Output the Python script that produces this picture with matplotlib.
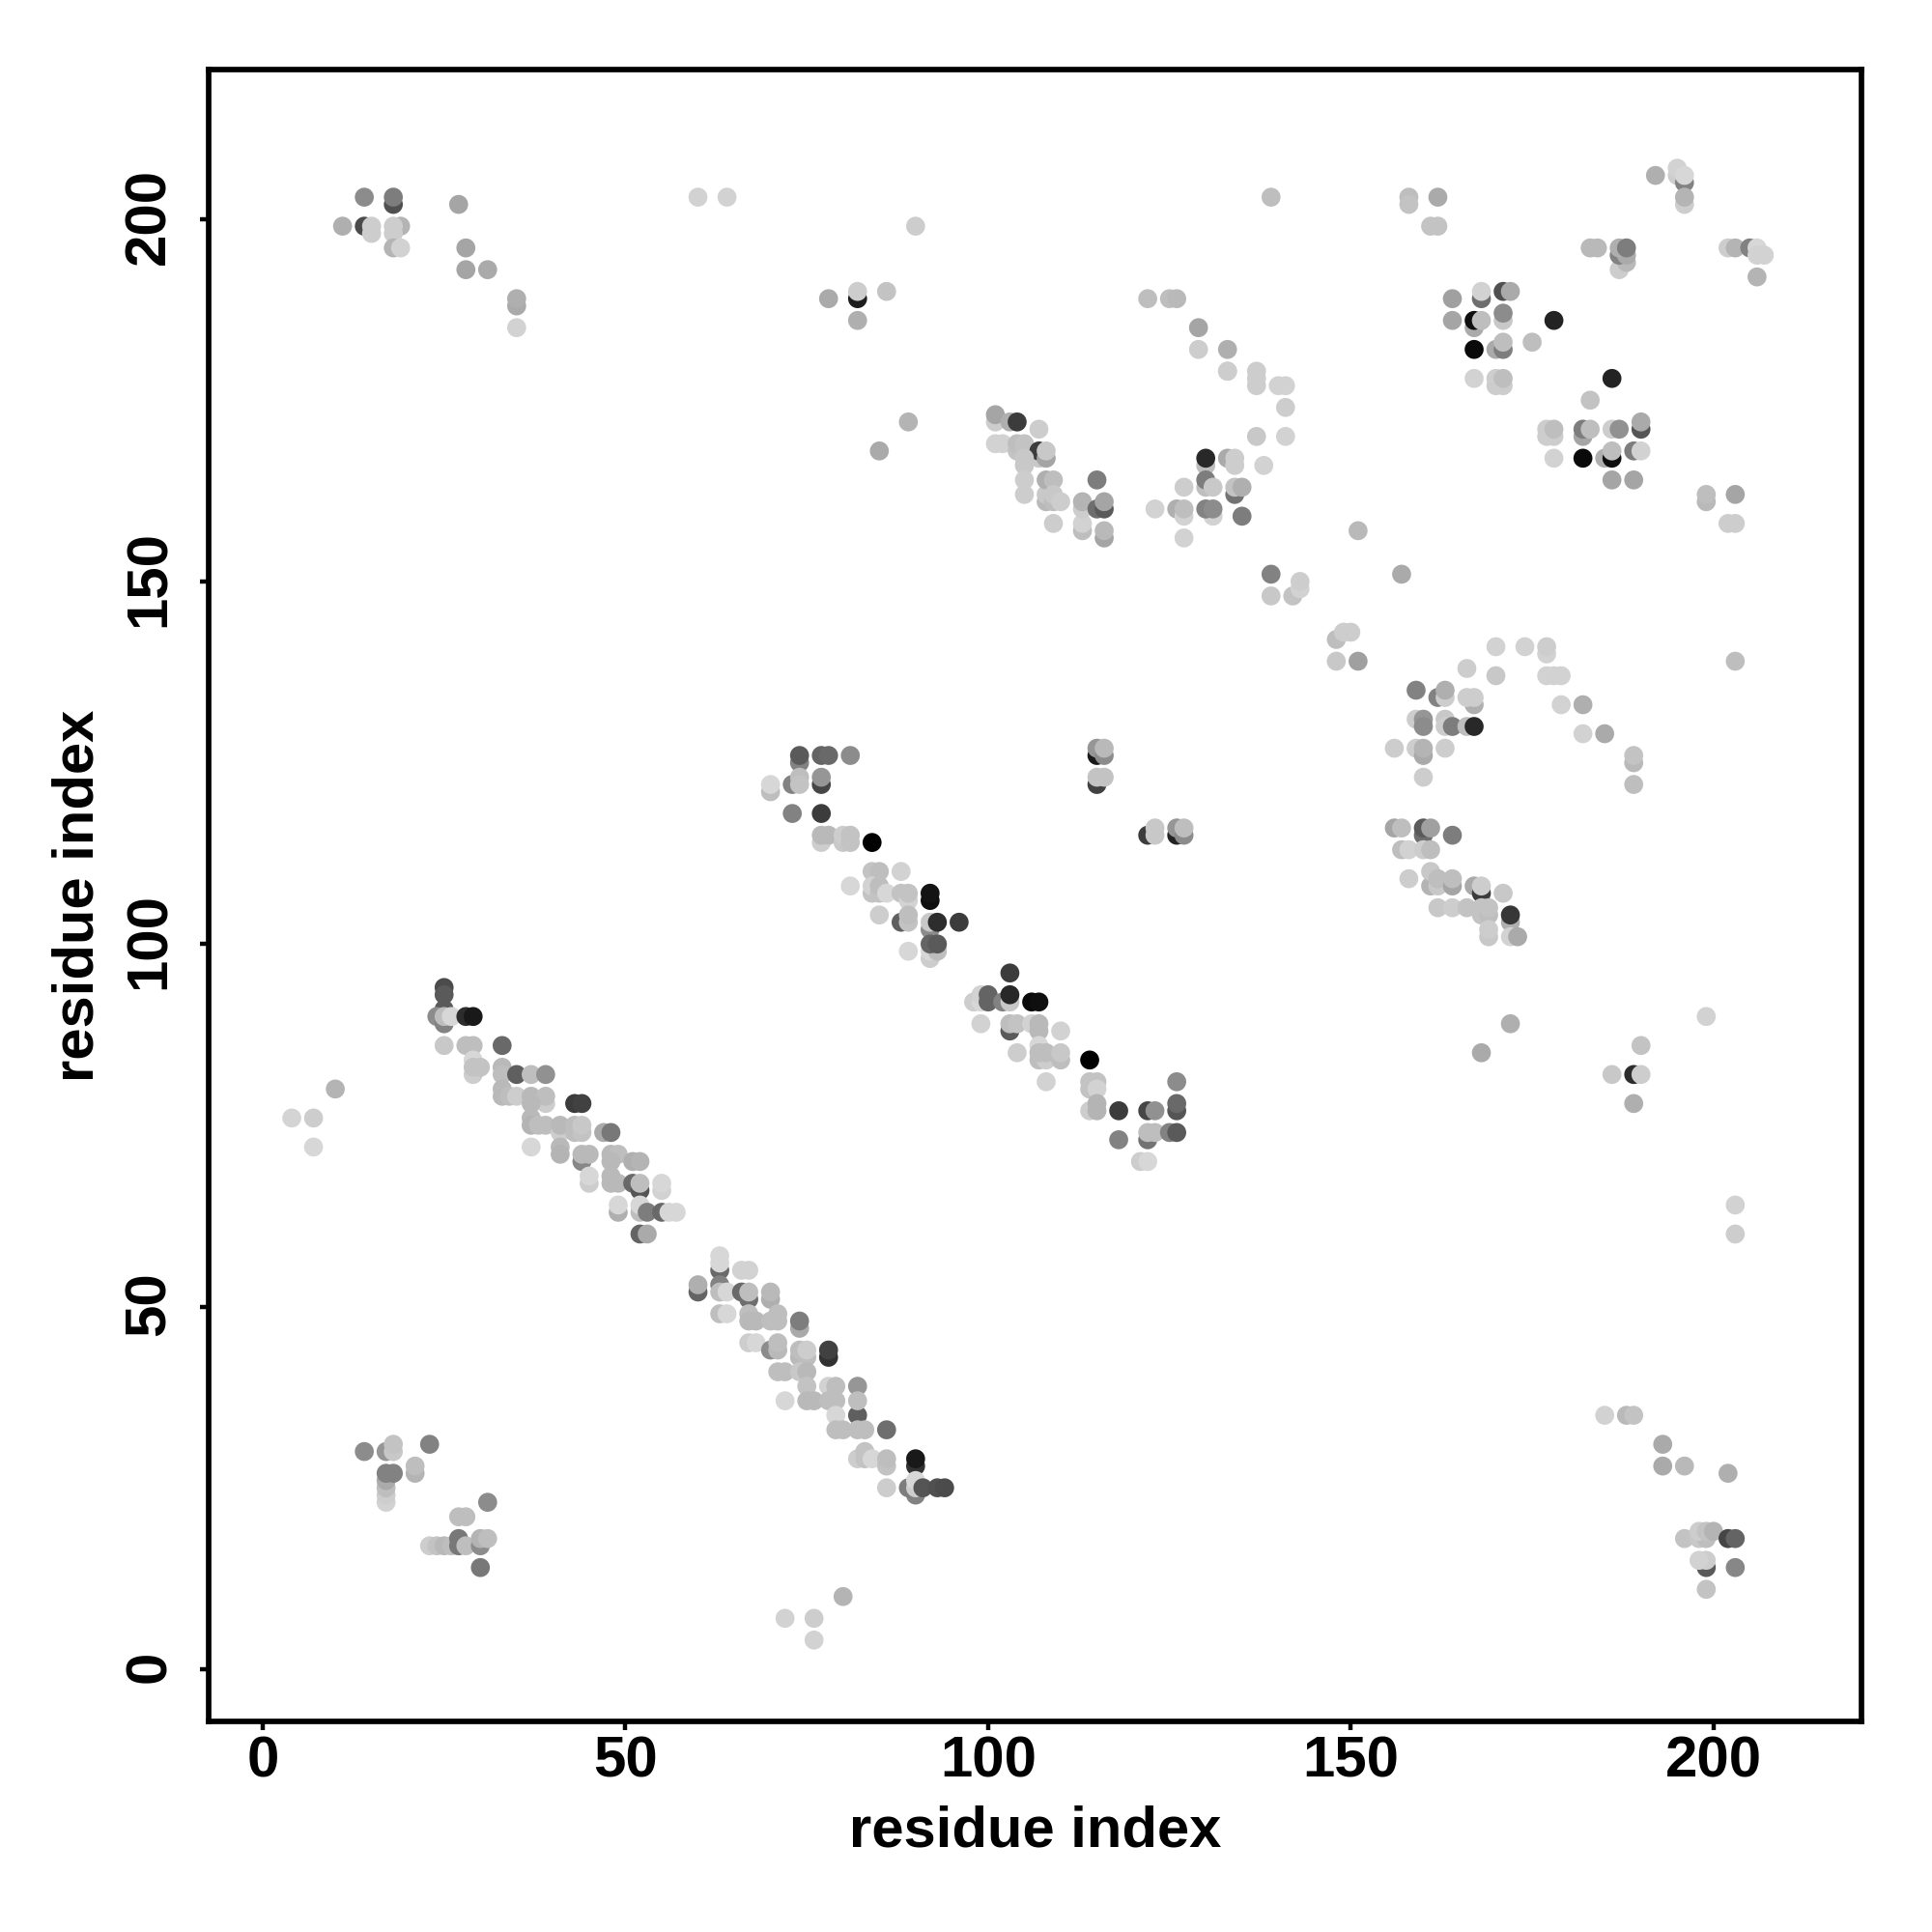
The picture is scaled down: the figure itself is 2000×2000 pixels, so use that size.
import numpy as np
import matplotlib
matplotlib.use("Agg")
import matplotlib.pyplot as plt
from matplotlib.transforms import ScaledTranslation

plt.rcParams['font.family'] = ['Liberation Sans', 'DejaVu Sans']

# each contact is (residue i, residue j, grey level 0-255)
diag_lower = [
    (4,76,212),(7,76,205),(7,72,215),(10,80,180),
    (25,94,75),(25,93,90),(25,91,90),(24,90,140),(25,89,130),(25,90,190),(26,90,215),(28,90,45),(29,90,25),
    (25,86,200),(28,86,190),(29,86,190),(33,86,105),
    (29,82,205),(29,84,215),(29,83,195),(30,83,195),
    (33,83,185),(33,82,190),(33,80,185),(33,79,185),(34,79,190),(35,79,205),
    (35,82,95),(37,82,190),(39,82,145),
    (37,79,185),(39,78,205),(39,79,190),(37,78,185),
    (37,76,185),(37,75,180),(38,75,190),(39,75,190),(41,74,205),(41,75,185),(43,74,190),(43,75,190),(44,74,195),(44,75,200),
    (43,78,60),(44,78,65),(37,72,215),(41,72,185),(41,71,180),
    (47,74,170),(48,74,120),(44,70,135),(44,71,185),(45,71,185),
    (48,71,185),(49,71,190),(48,70,185),(51,70,175),(52,70,180),
    (45,67,205),(45,68,215),(48,68,185),(48,67,185),(49,67,185),
    (51,67,105),(52,66,85),(52,67,190),(55,66,210),(55,67,215),
    (49,63,175),(49,64,215),(52,63,190),(52,64,215),(53,63,125),(55,63,105),(56,63,215),(57,63,215),
    (52,60,100),(53,60,170),
]
diag_lower2 = [
    (60,52,100),(60,53,175),(63,55,105),(63,56,215),(63,57,215),(63,53,130),(63,52,190),(64,52,215),
    (63,49,190),(64,49,215),(66,55,210),(67,55,210),(66,52,105),(67,51,110),(67,52,190),
    (70,51,175),(70,52,185),(67,49,190),(67,48,185),(68,48,185),(70,48,190),(71,48,190),(71,49,190),
    (74,47,170),(74,48,125),(67,45,205),(68,45,215),(70,44,140),(71,44,185),(71,45,190),
    (74,43,185),(75,43,190),(74,44,190),(75,44,205),(78,43,50),(78,44,65),
    (71,41,190),(72,41,190),(74,41,200),(75,41,185),(72,37,215),
    (75,39,195),(75,37,185),(76,37,185),(78,39,210),(79,39,190),(78,37,190),(79,37,190),
    (82,35,95),(82,39,150),(82,37,190),(79,35,215),(79,33,190),(80,33,190),(82,33,190),(83,33,190),(86,33,110),
    (82,29,205),(83,30,195),(83,29,195),(84,29,215),(86,28,195),(86,29,190),
    (90,28,50),(90,29,25),(90,24,130),(89,25,125),(90,25,205),(90,26,215),(86,25,205),
    (91,25,85),(93,25,80),(94,25,75),
]
diag_upper = [
    (74,125,130),(74,126,90),(77,126,100),(78,126,105),(81,126,140),
    (73,122,130),(74,123,190),(74,122,195),(70,121,190),(70,122,215),(77,122,70),(77,123,150),
    (73,118,130),(77,118,60),(77,114,205),(77,115,185),(78,115,185),
    (80,114,200),(80,115,205),(81,115,195),(81,114,195),(84,114,0),
    (84,110,195),(85,110,190),(88,110,210),(81,108,215),
    (84,107,195),(84,108,210),(85,107,195),(85,108,190),(86,107,215),(88,107,195),(89,106,210),(89,107,195),
    (92,106,15),(92,107,20),(85,104,205),(88,103,95),(89,103,195),(89,104,190),
    (92,102,140),(92,103,200),(93,103,45),(96,103,60),
    (92,98,205),(92,99,215),(93,99,190),(92,100,100),(93,100,90),(89,99,215),
    (98,92,205),(99,92,215),(99,93,210),(100,92,100),(100,93,100),(102,92,130),
    (103,92,200),(103,93,40),(103,96,60),(106,92,10),(107,92,15),
    (99,89,210),(103,88,90),(103,89,190),(104,89,195),(106,89,210),(107,88,185),(107,89,185),(110,88,210),
    (107,86,215),(104,85,205),(107,84,190),(108,84,205),(107,85,190),(108,85,190),(110,84,190),(110,85,200),
    (114,84,0),(108,81,210),(114,80,195),(114,81,195),(115,81,195),(115,80,210),(126,81,140),
    (114,77,205),(115,77,180),(115,78,180),(118,77,60),(122,77,70),(123,77,145),
    (126,77,85),(126,78,105),(122,73,115),(122,74,190),(123,74,190),(125,74,130),(126,74,90),
    (118,73,130),(121,70,205),(122,70,215),
    (115,126,25),(115,127,150),(116,126,140),(116,127,185),(115,122,65),(115,123,195),(116,123,195),
    (122,115,60),(123,115,200),(123,116,200),(126,115,35),(126,116,150),(127,115,140),(127,116,190),
]
arc_upper_mid = [
    (101,172,205),(101,173,165),(103,172,175),(104,172,60),(107,171,205),
    (101,169,210),(102,169,210),(104,168,195),(104,169,190),(105,168,195),(105,169,195),
    (107,167,200),(107,168,60),(108,167,165),(108,168,200),(105,167,200),(105,166,200),(105,164,205),(105,162,205),
    (108,161,185),(108,162,200),(108,164,175),(109,164,190),(109,161,190),(109,162,200),(110,161,205),(109,158,205),
    (113,157,190),(113,158,210),(113,160,205),(113,161,180),(115,164,125),(115,160,110),(116,160,90),(116,161,165),
    (116,156,165),(116,157,185),
    (123,160,210),(126,160,175),(127,159,210),(127,160,190),(127,163,205),(127,156,210),
    (130,166,190),(130,167,40),(130,163,190),(130,164,125),(131,163,200),(131,159,210),(130,160,130),(131,160,140),
    (133,167,170),(134,166,205),(134,167,205),(134,162,115),(134,163,195),(135,163,175),(135,159,125),
    (138,166,210),(137,170,200),(141,170,210),(141,174,205),
    (137,177,205),(137,178,205),(137,179,205),(140,177,210),(141,177,210),(133,179,205),
    (139,151,130),(139,148,200),(142,148,195),(143,149,210),(143,150,205),
    (148,139,200),(151,139,160),(148,142,190),(149,143,205),(150,143,205),(151,157,185),(157,151,170),
]
block_right_mid = [
    (170,141,210),(170,137,200),(174,141,210),(177,140,210),(177,141,205),(177,137,210),(178,137,210),(179,137,210),
    (179,133,210),(182,133,175),(182,129,210),(185,129,170),
    (189,125,185),(189,126,195),(189,122,190),(166,138,205),
    (159,135,130),(162,134,130),(163,134,205),(163,135,175),(167,133,175),(166,134,205),(167,134,205),
    (159,131,205),(160,131,150),(160,130,140),(163,131,200),(163,130,205),(164,130,125),(166,130,190),(167,130,40),
    (156,127,205),(159,127,205),(160,126,170),(160,127,180),(163,127,205),(160,123,205),
    (156,116,165),(157,116,190),(160,115,110),(160,116,90),(161,116,160),(164,115,125),
    (157,113,190),(158,113,210),(160,113,205),(161,113,190),(158,109,205),
    (161,108,180),(161,110,200),(162,108,200),(162,109,190),(164,108,165),(164,109,190),
    (167,108,170),(168,107,60),(168,108,205),(171,107,200),
    (162,105,200),(164,105,205),(166,105,195),(168,104,195),(168,105,195),(169,104,190),(169,105,195),
    (172,103,175),(172,104,55),(172,101,210),(173,101,170),(169,101,200),(169,102,205),
    (172,89,175),(168,85,170),(190,86,195),(186,82,200),(189,82,45),(190,82,205),(189,78,175),
    (199,90,210),(203,64,210),(203,60,205),(203,139,190),
]
block_top_right = [
    (162,203,170),(161,199,195),(162,199,195),(158,203,190),(158,202,195),
    (192,206,175),(195,206,205),(195,207,210),(196,205,130),(196,206,215),(196,202,205),(196,203,180),
    (183,196,185),(184,196,185),(187,193,205),(188,194,185),(187,195,130),(188,195,170),(187,196,175),(188,196,125),
    (202,196,205),(203,196,180),(205,196,130),(206,196,215),(206,195,210),(207,195,210),(206,192,180),
    (164,189,160),(164,186,165),(168,189,110),(168,190,210),(171,190,80),(172,190,170),
    (167,185,170),(167,186,15),(168,186,190),(171,186,200),(171,187,140),
    (170,182,170),(171,182,125),(171,183,190),(167,182,10),(175,183,190),(178,186,35),
    (167,178,210),(170,177,205),(170,178,205),(171,177,205),(171,178,190),(186,178,35),(183,175,195),
    (177,170,205),(178,170,205),(177,171,205),(178,171,190),(182,170,165),(182,171,125),(183,171,190),
    (186,171,205),(187,171,145),(190,171,85),(190,172,170),
    (178,167,210),(182,167,10),(185,167,175),(186,167,15),(186,168,190),(189,168,125),(190,168,210),
    (186,164,165),(189,164,165),
    (199,161,185),(199,162,190),(203,162,165),(202,158,205),(203,158,205),
]
corners = [
    (14,30,140),(17,30,150),(18,30,200),(18,31,195),(23,31,130),
    (17,23,210),(17,24,205),(17,25,190),(17,26,170),(17,27,130),(18,27,130),(21,27,180),(21,28,190),
    (31,23,140),(27,21,190),(28,21,190),
    (23,17,205),(24,17,195),(25,17,185),(26,17,190),(27,17,120),(27,18,120),(28,17,190),
    (30,17,140),(30,18,180),(31,18,190),(30,14,120),
    (72,7,210),(76,7,205),(76,4,210),(80,10,180),
    (185,35,210),(188,35,185),(189,35,195),(193,31,170),(193,28,170),(196,28,185),(202,27,175),
    (199,14,90),(199,15,205),(198,15,210),(196,18,195),(198,18,200),(199,18,190),(198,19,205),(199,19,195),(200,19,180),
    (202,18,70),(203,18,100),(203,14,135),(199,11,195),
]
top_left = [
    (11,199,175),(14,199,75),(14,203,140),(15,198,205),(15,199,205),
    (18,202,80),(18,203,125),(19,199,180),(18,199,205),(18,198,205),(18,196,180),(19,196,210),
    (27,202,165),(28,196,165),(28,193,165),(31,193,170),(35,188,170),(35,189,175),(35,185,210),
    (60,203,210),(64,203,210),(90,199,205),(78,189,170),(82,189,30),(82,190,205),(82,186,175),(86,190,195),
    (89,172,180),(85,168,170),(122,189,190),(125,189,190),(126,189,185),(129,185,165),(129,182,205),
    (133,182,175),(133,179,205),(139,203,190),
]

tick_vals = [0, 50, 100, 150, 200]

contacts = np.array(diag_lower + diag_lower2 + diag_upper + arc_upper_mid
                    + block_right_mid + block_top_right + corners + top_left)

fig = plt.figure(figsize=(10, 10), dpi=200)
ax = fig.add_axes([216/2000, 1 - 1782/2000, (1927-216)/2000, (1782-72)/2000])

ax.scatter(contacts[:, 0], contacts[:, 1], c=contacts[:, 2], cmap='gray',
           vmin=0, vmax=255, s=50, linewidths=0, zorder=3)

ax.set_xlim(-7.46, 220.4)
ax.set_ylim(-7.22, 220.6)
ax.set_xticks(tick_vals)
ax.set_yticks(tick_vals)
ax.tick_params(width=1.6, length=3.2, labelsize=21.6)
ax.tick_params(axis='x', pad=2)
ax.tick_params(axis='y', pad=8.8)
for lab in ax.get_xticklabels():
    lab.set_fontweight('bold')
for lab in ax.get_yticklabels():
    lab.set_fontweight('bold')
    lab.set_rotation(90)
    lab.set_va('center')
    # rotated labels sit a touch low otherwise
    lab.set_transform(lab.get_transform() + ScaledTranslation(0, 1/72, fig.dpi_scale_trans))
for s in ax.spines.values():
    s.set_linewidth(2.05)

ax.set_xlabel('residue index', fontsize=21.5, fontweight='bold', labelpad=6)
ax.set_ylabel('residue index', fontsize=21.5, fontweight='bold', labelpad=7)

fig.savefig('out.png', dpi=200, facecolor='white')
